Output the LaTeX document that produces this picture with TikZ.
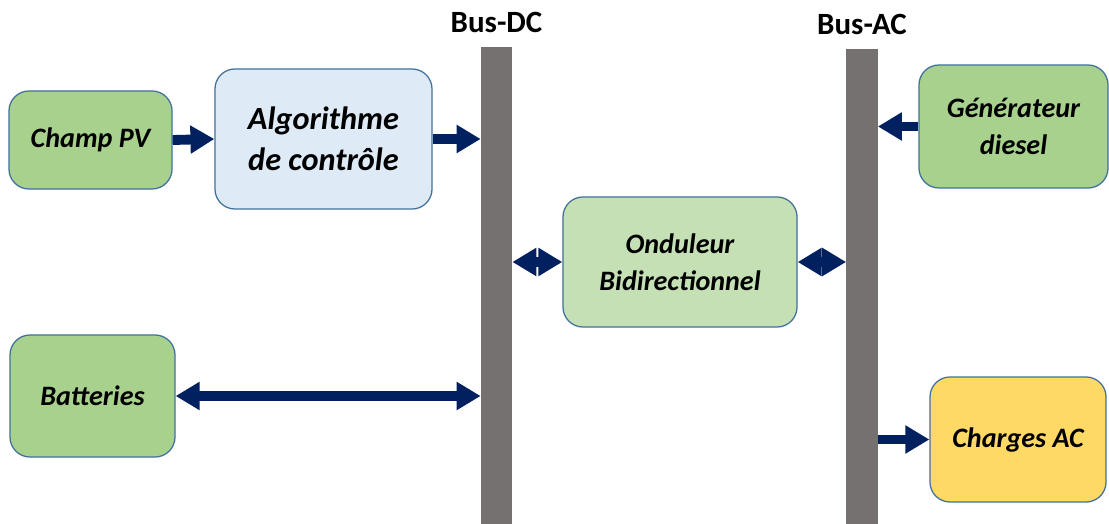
\documentclass[tikz,border=0pt]{standalone}
\usepackage{fontspec}
\setmainfont{Carlito}
\usetikzlibrary{arrows.meta}
\definecolor{pvgreen}{HTML}{A9D18E}
\definecolor{algoblue}{HTML}{DEEBF7}
\definecolor{ondgreen}{HTML}{C5E0B4}
\definecolor{chargeyellow}{HTML}{FFD966}
\definecolor{boxborder}{HTML}{41719C}
\definecolor{busgray}{HTML}{767171}
\definecolor{flownavy}{HTML}{002060}
\tikzstyle{block}=[rectangle, rounded corners=0.5cm, draw=boxborder, line width=0.9pt, align=center, font=\bfseries\itshape\fontsize{20}{26}\selectfont]
\tikzstyle{bus}=[rectangle, fill=busgray, inner sep=0pt, minimum width=0.78cm]
\tikzstyle{buslabel}=[font=\bfseries\fontsize{22}{26}\selectfont]
\tikzstyle{flow}=[flownavy, line width=7pt, -{Triangle[width=19pt,length=17pt]}]
\tikzstyle{flows}=[flownavy, line width=7pt, {Triangle[width=19pt,length=17pt]}-{Triangle[width=19pt,length=17pt]}]

\begin{document}
\begin{tikzpicture}[x=0.025cm, y=-0.025cm]
\useasboundingbox (0,0) rectangle (1109,524);
% bus bars
\node[bus, minimum height=11.925cm] (busdc) at (496.5,285.5) {};
\node[bus, minimum height=11.875cm] (busac) at (862,286.5) {};
\node[buslabel] (dclabel) at (496.5,22) {Bus-DC};
\node[buslabel] (aclabel) at (862,24) {Bus-AC};

% blocks
\node[block, fill=pvgreen, minimum width=4.075cm, minimum height=2.45cm] (pv) at (90.5,140) {Champ PV};
\node[block, fill=algoblue, minimum width=5.425cm, minimum height=3.5cm, font=\bfseries\itshape\fontsize{23}{29}\selectfont] (algo) at (323.5,139) {Algorithme\\de contrôle};
\node[block, fill=pvgreen, minimum width=4.725cm, minimum height=3.075cm] (gen) at (1013.5,126.5) {Générateur\\diesel};
\node[block, fill=ondgreen, minimum width=5.85cm, minimum height=3.25cm] (ond) at (680,262) {Onduleur\\Bidirectionnel};
\node[block, fill=pvgreen, minimum width=4.125cm, minimum height=3.05cm] (bat) at (92.5,396) {Batteries};
\node[block, fill=chargeyellow, minimum width=4.4cm, minimum height=3.125cm] (charges) at (1018,439.5) {Charges AC};

\path
    (pv.east) edge[flow] (algo.west)
    (algo.east) edge[flow] (algo.east -| busdc.west)
    (gen.west) edge[flow] (gen.west -| busac.east)
    (busdc.east |- ond.west) edge[flows] (ond.west)
    (ond.east) edge[flows] (ond.east -| busac.west)
    (bat.east) edge[flows] (bat.east -| busdc.west)
    (charges.west -| busac.east) edge[flow] (charges.west)
    ;
\end{tikzpicture}
\end{document}
